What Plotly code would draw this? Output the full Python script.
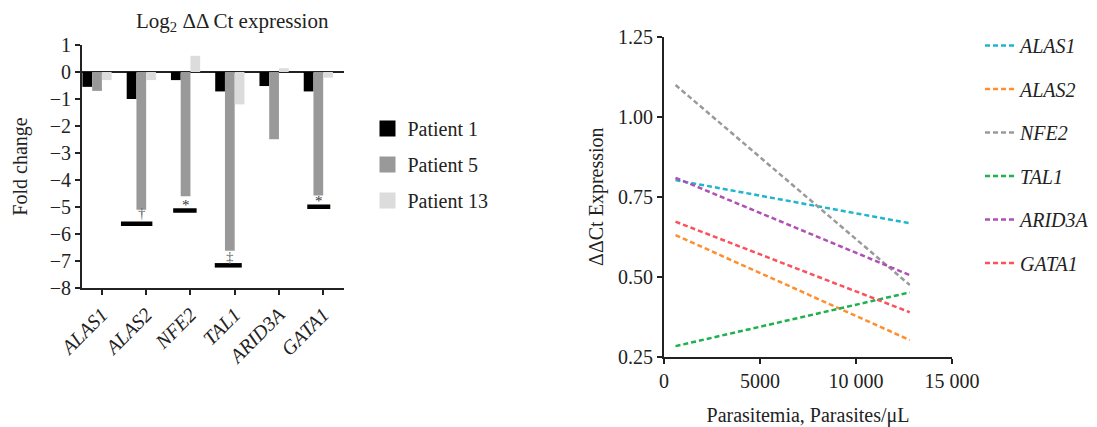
import plotly.graph_objects as go

# ---------------- data: left panel (bars) ----------------
genes = ["ALAS1", "ALAS2", "NFE2", "TAL1", "ARID3A", "GATA1"]
patients = ["Patient 1", "Patient 5", "Patient 13"]
patient1 = [-0.55, -1.0, -0.3, -0.72, -0.52, -0.72]
patient5 = [-0.7, -5.1, -4.6, -6.62, -2.49, -4.57]
patient13 = [-0.3, -0.3, 0.6, -1.2, 0.14, -0.21]
bar_colors = ["#000000", "#999999", "#dcdcdc"]

# significance markers (category index, bar extent relative to category, level, symbol)
sig_cat = [1, 2, 3, 5]
sig_x0 = [-0.57, -0.39, -0.45, -0.36]
sig_x1 = [0.14, 0.14, 0.16, 0.16]
sig_level = [-5.62, -5.13, -7.16, -4.99]
sig_symbol = ["†", "*", "‡", "*"]
sig_symbol_level = [-5.22, -4.93, -6.85, -4.77]

# ---------------- data: right panel (lines) ----------------
parasitemia = [600, 12800]
line_genes = ["ALAS1", "ALAS2", "NFE2", "TAL1", "ARID3A", "GATA1"]
line_start = [0.802, 0.630, 1.099, 0.283, 0.809, 0.672]
line_end = [0.667, 0.302, 0.474, 0.451, 0.505, 0.389]
line_colors = ["#1fb5cc", "#ff8f2e", "#9a9a9a", "#1db04f", "#b04fb4", "#f9525c"]
x_tickvals = [0, 5000, 10000, 15000]
x_ticktext = ["0", "5000", "10 000", "15 000"]
y_tickvals = [0.25, 0.5, 0.75, 1.0, 1.25]
y_ticktext = ["0.25", "0.50", "0.75", "1.00", "1.25"]

FONT = "Liberation Serif, Times New Roman, DejaVu Serif, serif"
TXT = "#222222"
FS = 20
W, H = 1097, 427
OFF = 8  # page body margin


def px(x):
    return (x - OFF) / W


def py(y):
    return 1 - (y - OFF) / H


fig = go.Figure()

bw = 0.22
for i, (name, vals) in enumerate(zip(patients, [patient1, patient5, patient13])):
    fig.add_trace(go.Bar(
        x=list(range(len(genes))), y=vals, name=name,
        width=bw, offset=-2 * bw + i * bw,
        marker=dict(color=bar_colors[i], line=dict(width=0)),
        xaxis="x", yaxis="y", showlegend=False, legendgroup=name,
    ))
    # legend key (larger square swatch than the default bar key)
    fig.add_trace(go.Scatter(
        x=[None], y=[None], mode="markers", name=name,
        marker=dict(symbol="square", size=16, color=bar_colors[i]),
        xaxis="x", yaxis="y", legend="legend", legendgroup=name,
    ))

for c, x0, x1, lv in zip(sig_cat, sig_x0, sig_x1, sig_level):
    fig.add_trace(go.Scatter(
        x=[c + x0, c + x1], y=[lv, lv], mode="lines",
        line=dict(color="#000000", width=4.5),
        showlegend=False, hoverinfo="skip", xaxis="x", yaxis="y",
    ))

for c, s, lv in zip(sig_cat, sig_symbol, sig_symbol_level):
    fig.add_annotation(x=c - 0.1, y=lv, xref="x", yref="y", text=s,
                       showarrow=False, font=dict(family=FONT, size=15,
                                                  color="#666666" if s != "*" else "#333333"))

for g, y0, y1, col in zip(line_genes, line_start, line_end, line_colors):
    fig.add_trace(go.Scatter(
        x=parasitemia, y=[y0, y1], mode="lines", name=g,
        line=dict(color=col, width=2.5, dash="5px,3px"),
        xaxis="x2", yaxis="y2", legend="legend2", legendgroup=g,
    ))

fig.add_annotation(x=px(232), y=py(22), xref="paper", yref="paper",
                   xanchor="center", yanchor="middle",
                   text="Log<sub>2</sub> ΔΔ Ct expression", showarrow=False,
                   font=dict(family=FONT, size=21, color=TXT))

axis_common = dict(showline=True, linecolor="#222222", linewidth=2,
                   ticks="outside", ticklen=5, tickwidth=2, tickcolor="#222222",
                   showgrid=False, automargin=False)

fig.update_layout(
    width=W, height=H,
    margin=dict(l=0, r=0, t=0, b=0, autoexpand=False),
    paper_bgcolor="white", plot_bgcolor="white",
    font=dict(family=FONT, size=FS, color=TXT),
    barmode="overlay",
    xaxis=dict(
        domain=[px(82), px(344)], range=[-0.45, 5.47],
        tickvals=list(range(len(genes))), ticktext=genes,
        tickangle=-45, tickfont=dict(family=FONT, size=FS, style="italic", color=TXT),
        zeroline=False, anchor="y", **axis_common,
    ),
    yaxis=dict(
        domain=[py(288), py(45)], range=[-8, 1],
        tickvals=list(range(-8, 2)),
        title=dict(text="Fold change", standoff=17, font=dict(family=FONT, size=FS, color=TXT)),
        zeroline=True, zerolinecolor="#222222", zerolinewidth=2,
        anchor="x", **axis_common,
    ),
    xaxis2=dict(
        domain=[px(664), px(952)], range=[0, 15000],
        tickvals=x_tickvals, ticktext=x_ticktext,
        title=dict(text="Parasitemia, Parasites/μL", standoff=17, font=dict(family=FONT, size=FS, color=TXT)),
        zeroline=False, anchor="y2", **axis_common,
    ),
    yaxis2=dict(
        domain=[py(356.7), py(36.7)], range=[0.25, 1.25],
        tickvals=y_tickvals, ticktext=y_ticktext,
        title=dict(text="ΔΔCt Expression", standoff=9, font=dict(family=FONT, size=FS, color=TXT)),
        zeroline=False, anchor="x2", **axis_common,
    ),
    legend=dict(
        x=px(367.5), y=py(109), xanchor="left", yanchor="top",
        font=dict(family=FONT, size=FS, color=TXT),
        traceorder="grouped", tracegroupgap=7, bgcolor="rgba(0,0,0,0)",
    ),
    legend2=dict(
        x=px(980), y=py(26), xanchor="left", yanchor="top",
        font=dict(family=FONT, size=FS, color=TXT, style="italic"),
        traceorder="grouped", tracegroupgap=14.5, bgcolor="rgba(0,0,0,0)",
        itemwidth=30,
    ),
    showlegend=True,
)

fig.write_html("out.html")
